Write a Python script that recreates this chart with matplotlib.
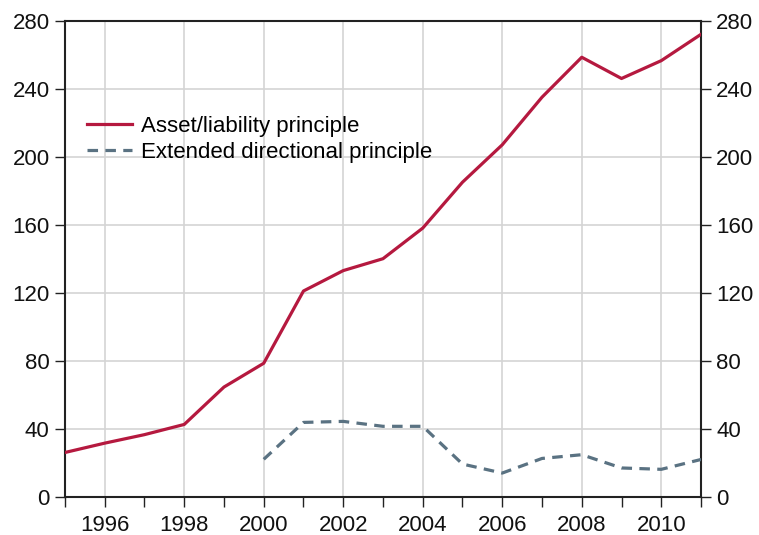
import numpy as np
import matplotlib
matplotlib.use("Agg")
import matplotlib.pyplot as plt
from matplotlib.ticker import MultipleLocator, FixedLocator

plt.rcParams['font.family'] = ['Liberation Sans', 'DejaVu Sans']

# datos
anios = list(range(1995, 2012))
activo_pasivo = [26, 31.5, 36.5, 42.5, 64.5, 78.5, 121, 133, 140, 158, 185,
                 207, 235, 258.5, 246, 256.5, 272]
anios_ext = list(range(2000, 2012))
direccional_ext = [22, 43.7, 44.3, 41.4, 41.4, 19.2, 13.9, 22.5, 24.7, 16.9, 16.1, 21.9]

etiquetas = ["Asset/liability principle", "Extended directional principle"]

rojo = "#B5193F"
azul = "#5A7282"

fig = plt.figure(figsize=(7.59, 5.35), dpi=100)
ax = fig.add_axes([0.0856, 0.0716, 0.838, 0.8897])

ax.plot(anios, activo_pasivo, color=rojo, lw=2.3, label=etiquetas[0], zorder=3)
ax.plot(anios_ext, direccional_ext, color=azul, lw=2.3, ls=(0, (3.3, 2.3)),
        label=etiquetas[1], zorder=3)

ax.set_xlim(1995, 2011)
ax.set_ylim(0, 280)
ax.xaxis.set_major_locator(FixedLocator(range(1996, 2011, 2)))
ax.xaxis.set_minor_locator(FixedLocator(range(1995, 2012, 2)))
ax.yaxis.set_major_locator(MultipleLocator(40))

ax.grid(True, which="major", color="#D4D4D4", lw=1.2, zorder=0)
ax.set_axisbelow(True)

ax.tick_params(axis="both", which="both", direction="out", length=7,
               width=1, labelsize=16, color="#222222", labelcolor="#111111")
ax.tick_params(axis="y", right=True, labelright=True, pad=4)
ax.tick_params(axis="x", pad=6)

for s in ax.spines.values():
    s.set_color("#222222")
    s.set_linewidth(1.5)

leg = ax.legend(loc="upper left", bbox_to_anchor=(0.035, 0.80), frameon=False,
                fontsize=16, handlelength=2.0, handletextpad=0.4,
                labelspacing=0.24, borderaxespad=0, borderpad=0)

plt.savefig("out.png", dpi=100)
plt.close()
